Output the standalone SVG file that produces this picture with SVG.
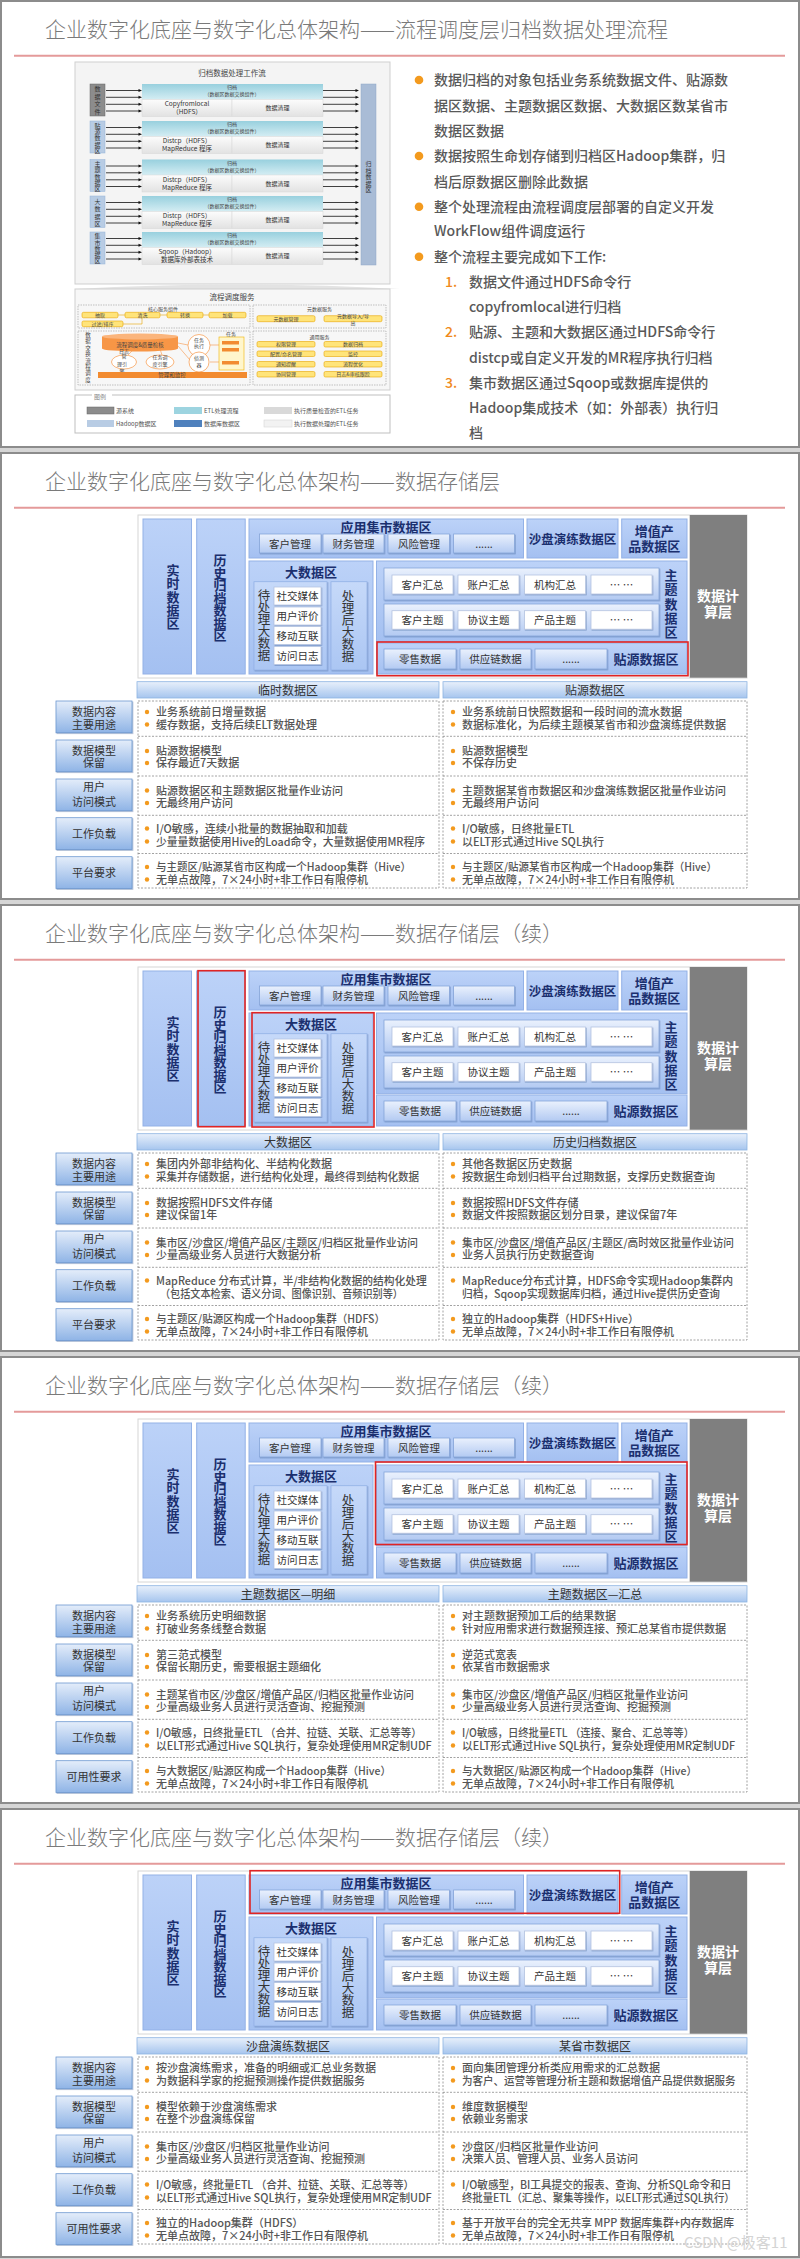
<svg xmlns="http://www.w3.org/2000/svg" width="800" height="2259" viewBox="0 0 800 2259">
<defs>
<linearGradient id="gZ" x1="0" y1="0" x2="0" y2="1"><stop offset="0" stop-color="#bcd2f8"/><stop offset="1" stop-color="#a4c0f1"/></linearGradient>
<linearGradient id="gZ2" x1="0" y1="0" x2="0" y2="1"><stop offset="0" stop-color="#c6d9f9"/><stop offset="1" stop-color="#abc6f3"/></linearGradient>
<linearGradient id="gB" x1="0" y1="0" x2="0" y2="1"><stop offset="0" stop-color="#eaf1fd"/><stop offset="1" stop-color="#b3caf2"/></linearGradient>
<linearGradient id="gH" x1="0" y1="0" x2="0" y2="1"><stop offset="0" stop-color="#e8f0fb"/><stop offset="1" stop-color="#a6c5ee"/></linearGradient>
<linearGradient id="gR" x1="0" y1="0" x2="0" y2="1"><stop offset="0" stop-color="#e4edfa"/><stop offset="1" stop-color="#8fb4e6"/></linearGradient>
<linearGradient id="gT" x1="0" y1="0" x2="0" y2="1"><stop offset="0" stop-color="#98d0de"/><stop offset="1" stop-color="#d4edf3"/></linearGradient>
<linearGradient id="gG" x1="0" y1="0" x2="0" y2="1"><stop offset="0" stop-color="#fcfcfc"/><stop offset="1" stop-color="#e2e2e2"/></linearGradient>
<filter id="sh" x="-10%" y="-10%" width="130%" height="140%"><feDropShadow dx="0.8" dy="1" stdDeviation="0.6" flood-color="#4a6aa0" flood-opacity="0.45"/></filter>
<style>
text{font-family:'Noto Sans CJK SC','Noto Sans',sans-serif}
.ttl{font-size:21px;fill:#7a7a7a;font-weight:300}
.red{stroke:#e49a9a;stroke-width:2}
.fr{fill:#fff;stroke:#8c8c8c;stroke-width:2}
.z{fill:url(#gZ);stroke:#93b1e6;stroke-width:1}
.z2{fill:url(#gZ2);stroke:#93b1e6;stroke-width:.8;filter:url(#sh)}
.b{fill:url(#gB);stroke:#86a5d9;stroke-width:.8;filter:url(#sh)}
.w{fill:#fff;stroke:#b4c4e0;stroke-width:.8;filter:url(#sh)}
.zt{font-size:13px;font-weight:bold;fill:#1b2f6e;text-anchor:middle}
.bt{font-size:10.5px;fill:#333;text-anchor:middle}
.vt{font-size:12.5px;fill:#333;text-anchor:middle}
.ct{font-size:14px;font-weight:bold;fill:#fff;text-anchor:middle}
.hl{fill:none;stroke:#e02424;stroke-width:1.6}
.hd{fill:url(#gH);stroke:#8db3e2;stroke-width:.8}
.ht{font-size:12px;fill:#333;text-anchor:middle}
.rl{fill:url(#gR);stroke:#6d98d0;stroke-width:.8;filter:url(#sh)}
.rt{font-size:11px;fill:#333;text-anchor:middle}
.gd{fill:none;stroke:#8a8a8a;stroke-width:.8;stroke-dasharray:2 1.5}
.c{font-size:11px;fill:#555;font-weight:500}
.d{fill:#f39a1e}
.bl{font-size:14px;fill:#595959;font-weight:500}
.num{font-size:14px;fill:#f08a1c;font-weight:500}
.s5{font-size:5px;fill:#444;text-anchor:middle}
.s6{font-size:6px;fill:#333;text-anchor:middle}
.s65{font-size:6.5px;fill:#333;text-anchor:middle}
.s8{font-size:7.5px;fill:#444;text-anchor:middle}
.lg{font-size:6px;fill:#555}
.pill{fill:#ffe47a;stroke:#e8a400;stroke-width:.6}
.dash{fill:none;stroke:#9a9a9a;stroke-width:.6;stroke-dasharray:1.5 1}
.ol{fill:#fff;stroke:#f79646;stroke-width:.7}
</style>
</defs>
<rect x="0" y="0" width="800" height="2259" fill="#d6d6d6"/>
<g id="frames">
<rect class="fr" x="1" y="1" width="798" height="446"/>
<rect class="fr" x="1" y="453" width="798" height="446"/>
<rect class="fr" x="1" y="905" width="798" height="446"/>
<rect class="fr" x="1" y="1357" width="798" height="446"/>
<rect class="fr" x="1" y="1809" width="798" height="448"/>
</g>

<!-- ================= SLIDE 1 ================= -->
<g id="slide1">
<text class="ttl" x="45" y="37">企业数字化底座与数字化总体架构——流程调度层归档数据处理流程</text>
<line class="red" x1="14" y1="55.7" x2="785" y2="55.7"/>
<g id="wf">
<rect x="75" y="62" width="315" height="222" fill="#f4f4f4" stroke="#cfcfcf"/>
<text class="s8" x="232" y="75.5">归档数据处理工作流</text>
<g id="wf-src1"><rect x="90" y="84" width="15" height="32" fill="#8c8c8c" stroke="#666" stroke-width=".5"/><text class="s6" x="97.5 97.5 97.5 97.5" y="91 98.5 106 113.5">数据文件</text></g>
<g id="wf-src2"><rect x="90" y="121" width="15" height="32" fill="#b8cce4" stroke="#95b3d7" stroke-width=".5"/><text class="s6" x="97.5 97.5 97.5 97.5 97.5" y="127.6 133.9 140.2 146.5 152.6">贴源数据区</text></g>
<g id="wf-src3"><rect x="90" y="159.5" width="15" height="32" fill="#b8cce4" stroke="#95b3d7" stroke-width=".5"/><text class="s6" x="97.5 97.5 97.5 97.5 97.5" y="166.1 172.4 178.7 185 191">主题数据区</text></g>
<g id="wf-src4"><rect x="90" y="196" width="15" height="31.5" fill="#b8cce4" stroke="#95b3d7" stroke-width=".5"/><text class="s6" x="97.5 97.5 97.5 97.5" y="203.5 211 218.5 226">大数据区</text></g>
<g id="wf-src5"><rect x="90" y="232" width="15" height="32" fill="#b8cce4" stroke="#95b3d7" stroke-width=".5"/><text class="s6" x="97.5 97.5 97.5 97.5 97.5" y="238.4 244.6 250.8 257 263.2">集市数据区</text></g>
<g id="wf-row1"><rect x="142" y="84" width="181" height="15.5" fill="url(#gT)"/><text class="s5" x="232" y="89.3">归档</text><text class="s5" x="232" y="96">（数据区数据交换组件）</text><rect x="142" y="99.5" width="90" height="17" fill="url(#gG)" stroke="#d6d6d6" stroke-width=".5"/><rect x="232" y="99.5" width="91" height="17" fill="url(#gG)" stroke="#d6d6d6" stroke-width=".5"/><text class="s65" x="187" y="106.3">Copyfromlocal</text><text class="s65" x="187" y="114">（HDFS）</text><text class="s6" x="277.5" y="110">数据清理</text></g>
<g id="wf-row2"><rect x="142" y="121" width="181" height="15.5" fill="url(#gT)"/><text class="s5" x="232" y="126.3">归档</text><text class="s5" x="232" y="133">（数据区数据交换组件）</text><rect x="142" y="136.5" width="90" height="17" fill="url(#gG)" stroke="#d6d6d6" stroke-width=".5"/><rect x="232" y="136.5" width="91" height="17" fill="url(#gG)" stroke="#d6d6d6" stroke-width=".5"/><text class="s65" x="187" y="143.3">Distcp（HDFS）</text><text class="s65" x="187" y="151">MapReduce 程序</text><text class="s6" x="277.5" y="147">数据清理</text></g>
<g id="wf-row3"><rect x="142" y="159.5" width="181" height="15.5" fill="url(#gT)"/><text class="s5" x="232" y="164.8">归档</text><text class="s5" x="232" y="171.5">（数据区数据交换组件）</text><rect x="142" y="175" width="90" height="17" fill="url(#gG)" stroke="#d6d6d6" stroke-width=".5"/><rect x="232" y="175" width="91" height="17" fill="url(#gG)" stroke="#d6d6d6" stroke-width=".5"/><text class="s65" x="187" y="181.8">Distcp（HDFS）</text><text class="s65" x="187" y="189.5">MapReduce 程序</text><text class="s6" x="277.5" y="185.5">数据清理</text></g>
<g id="wf-row4"><rect x="142" y="196" width="181" height="15.5" fill="url(#gT)"/><text class="s5" x="232" y="201.3">归档</text><text class="s5" x="232" y="208">（数据区数据交换组件）</text><rect x="142" y="211.5" width="90" height="17" fill="url(#gG)" stroke="#d6d6d6" stroke-width=".5"/><rect x="232" y="211.5" width="91" height="17" fill="url(#gG)" stroke="#d6d6d6" stroke-width=".5"/><text class="s65" x="187" y="218.3">Distcp（HDFS）</text><text class="s65" x="187" y="226">MapReduce 程序</text><text class="s6" x="277.5" y="222">数据清理</text></g>
<g id="wf-row5"><rect x="142" y="232" width="181" height="15.5" fill="url(#gT)"/><text class="s5" x="232" y="237.3">归档</text><text class="s5" x="232" y="244">（数据区数据交换组件）</text><rect x="142" y="247.5" width="90" height="17" fill="url(#gG)" stroke="#d6d6d6" stroke-width=".5"/><rect x="232" y="247.5" width="91" height="17" fill="url(#gG)" stroke="#d6d6d6" stroke-width=".5"/><text class="s65" x="187" y="254.3">Sqoop（Hadoop）</text><text class="s65" x="187" y="262">数据库外部表技术</text><text class="s6" x="277.5" y="258">数据清理</text></g>
<g id="wf-arch"><rect x="361" y="84" width="15" height="181" fill="#a9bcd6" stroke="#8fa6c6" stroke-width=".5"/><text class="s6" x="368.5 368.5 368.5 368.5 368.5" y="166 172.5 179 185.5 192">归档数据区</text></g>
</g>
<g id="wf-connectors" stroke="#111" stroke-width=".8" fill="none">
<path d="M106 90.5H139M106 97.3H139M106 104.3H139M106 111H139M106 127.5H139M106 134.3H139M106 141.3H139M106 148H139M106 166H139M106 172.8H139M106 179.8H139M106 186.5H139M106 202.5H139M106 209.3H139M106 216.3H139M106 223H139M106 238.5H139M106 245.3H139M106 252.3H139M106 259H139M323 90.5H356M323 97.3H356M323 104.3H356M323 111H356M323 127.5H356M323 134.3H356M323 141.3H356M323 148H356M323 166H356M323 172.8H356M323 179.8H356M323 186.5H356M323 202.5H356M323 209.3H356M323 216.3H356M323 223H356M323 238.5H356M323 245.3H356M323 252.3H356M323 259H356"/>
<path fill="#111" stroke="none" d="M142 90.5l-3.5-1.5v3zM142 97.3l-3.5-1.5v3zM142 104.3l-3.5-1.5v3zM142 111l-3.5-1.5v3zM142 127.5l-3.5-1.5v3zM142 134.3l-3.5-1.5v3zM142 141.3l-3.5-1.5v3zM142 148l-3.5-1.5v3zM142 166l-3.5-1.5v3zM142 172.8l-3.5-1.5v3zM142 179.8l-3.5-1.5v3zM142 186.5l-3.5-1.5v3zM142 202.5l-3.5-1.5v3zM142 209.3l-3.5-1.5v3zM142 216.3l-3.5-1.5v3zM142 223l-3.5-1.5v3zM142 238.5l-3.5-1.5v3zM142 245.3l-3.5-1.5v3zM142 252.3l-3.5-1.5v3zM142 259l-3.5-1.5v3zM359 90.5l-3.5-1.5v3zM359 97.3l-3.5-1.5v3zM359 104.3l-3.5-1.5v3zM359 111l-3.5-1.5v3zM359 127.5l-3.5-1.5v3zM359 134.3l-3.5-1.5v3zM359 141.3l-3.5-1.5v3zM359 148l-3.5-1.5v3zM359 166l-3.5-1.5v3zM359 172.8l-3.5-1.5v3zM359 179.8l-3.5-1.5v3zM359 186.5l-3.5-1.5v3zM359 202.5l-3.5-1.5v3zM359 209.3l-3.5-1.5v3zM359 216.3l-3.5-1.5v3zM359 223l-3.5-1.5v3zM359 238.5l-3.5-1.5v3zM359 245.3l-3.5-1.5v3zM359 252.3l-3.5-1.5v3zM359 259l-3.5-1.5v3z"/>
</g>
<path d="M75 289Q232 280 400 289Z" fill="#e3e3e3"/>
<g id="sched">
<rect x="75" y="289" width="315" height="101" fill="#f7f7f7" stroke="#cfcfcf"/>
<text class="s8" x="232" y="300">流程调度服务</text>
<g id="core"><rect class="dash" x="78" y="305" width="172" height="23"/><text class="s5" x="163" y="310.5">核心服务组件</text>
<path d="M118 315H125M160 315H167M203 315H209M142 317.7V324H123" stroke="#e8a400" stroke-width=".6" fill="none"/>
<rect class="pill" x="82" y="312.3" width="36" height="5.5" rx="1.5"/><text class="s5" x="100" y="316.8">抽取</text>
<rect class="pill" x="125" y="312.3" width="35" height="5.5" rx="1.5"/><text class="s5" x="142.5" y="316.8">清洗</text>
<rect class="pill" x="167" y="312.3" width="36" height="5.5" rx="1.5"/><text class="s5" x="185" y="316.8">转换</text>
<rect class="pill" x="209" y="312.3" width="37" height="5.5" rx="1.5"/><text class="s5" x="227.5" y="316.8">加载</text>
<rect class="pill" x="82" y="321" width="41" height="5.7" rx="1.5"/><text class="s5" x="102.5" y="325.6">过滤/排序</text></g>
<g id="meta"><rect class="dash" x="253" y="305" width="133" height="23"/><text class="s5" x="319.5" y="310.5">元数据服务</text>
<rect class="pill" x="257" y="315.7" width="58" height="6" rx="1.5"/><text class="s5" x="286" y="320.5">元数据管理</text>
<rect class="pill" x="324" y="315.7" width="58" height="6" rx="1.5"/><text class="s5" x="353" y="317.6">元数据导入/导</text><text class="s5" x="353" y="324.6">出</text></g>
<g id="xchg"><rect class="dash" x="78" y="331" width="172" height="54"/>
<text class="s5" style="font-size:5.5px" x="88 88 88 88 88 88 88 88" y="337 343.4 349.8 356.2 362.6 369 375.4 381.8">数据交换流程调度</text>
<path d="M178 343L188 345M160 349L162 355M178 346L190 360M134 349L128 355M210 345L219 345M210 362L219 362" stroke="#f79646" stroke-width=".6" fill="none"/>
<rect x="102" y="336.5" width="76" height="12" fill="#f79646"/><ellipse cx="140" cy="348.5" rx="38" ry="3" fill="#f79646"/><ellipse cx="140" cy="336.5" rx="38" ry="3" fill="#fbb57c"/>
<text class="s5" style="font-size:5.5px" x="140" y="347">流程调度&amp;质量检核</text>
<circle class="ol" cx="199" cy="345.5" r="11"/><text class="s5" x="199" y="341.5">任务</text><text class="s5" x="199" y="348">执行</text>
<ellipse class="ol" cx="124" cy="362" rx="12.5" ry="7"/><text class="s5" x="124" y="353">日志</text><text class="s5" x="124" y="358">管</text><text class="s5" x="122" y="366">理引</text><text class="s5" x="122" y="373">擎</text>
<ellipse class="ol" cx="160" cy="362" rx="14" ry="7"/><text class="s5" x="160" y="359">任务调</text><text class="s5" x="160" y="366">度引擎</text>
<circle class="ol" cx="199" cy="362" r="10"/><text class="s5" x="199" y="360">侦测</text><text class="s5" x="199" y="367">器</text>
<text class="s5" x="231" y="336">任务</text>
<rect x="219" y="337" width="25" height="33" fill="#fff6cc" stroke="#f0b400" stroke-width=".6"/>
<rect x="222" y="341" width="17" height="3.5" fill="#f28b30"/><rect x="222" y="348" width="17" height="3.5" fill="#f28b30"/><rect x="222" y="361" width="17" height="3.5" fill="#f28b30"/>
<rect x="98" y="372" width="149" height="6" fill="#f28b30"/><text class="s5" style="font-size:5.5px" x="172" y="377">管理和监控</text></g>
<g id="common"><rect class="dash" x="253" y="331" width="133" height="54"/><text class="s5" x="319.5" y="338.5">通用服务</text>
<rect class="pill" x="257" y="341.5" width="58" height="5.5" rx="1.5"/><text class="s5" x="286" y="346">权限管理</text>
<rect class="pill" x="324" y="341.5" width="58" height="5.5" rx="1.5"/><text class="s5" x="353" y="346">数据归档</text>
<rect class="pill" x="257" y="351" width="58" height="5.5" rx="1.5"/><text class="s5" x="286" y="355.5">配置/命名管理</text>
<rect class="pill" x="324" y="351" width="58" height="5.5" rx="1.5"/><text class="s5" x="353" y="355.5">监控</text>
<rect class="pill" x="257" y="361.5" width="58" height="5.5" rx="1.5"/><text class="s5" x="286" y="366">通知提醒</text>
<rect class="pill" x="324" y="361.5" width="58" height="5.5" rx="1.5"/><text class="s5" x="353" y="366">流程优化</text>
<rect class="pill" x="257" y="371.5" width="58" height="5.5" rx="1.5"/><text class="s5" x="286" y="376">协同管理</text>
<rect class="pill" x="324" y="371.5" width="58" height="5.5" rx="1.5"/><text class="s5" x="353" y="376">日志&amp;审核跟踪</text></g>
</g>
<g id="legend">
<rect x="75" y="395" width="315" height="38" fill="#fff" stroke="#bfbfbf"/>
<rect x="92" y="392" width="20" height="6" fill="#fff"/><text class="lg" x="94" y="398.5" style="fill:#888">图例</text>
<rect x="87" y="407" width="27" height="7" fill="#8c8c8c" stroke="#666" stroke-width=".5"/><text class="lg" x="116" y="413">源系统</text>
<rect x="174" y="407" width="28" height="7" fill="#9dd4e0"/><text class="lg" x="204" y="413">ETL处理流程</text>
<rect x="264" y="407" width="28" height="7" fill="#d9d9d9"/><text class="lg" x="294" y="413">执行质量检查的ETL任务</text>
<rect x="87" y="420" width="27" height="7" fill="#b8cce4"/><text class="lg" x="116" y="426">Hadoop数据区</text>
<rect x="174" y="420" width="28" height="7" fill="#4f81bd"/><text class="lg" x="204" y="426">数据库数据区</text>
<rect x="264" y="420" width="28" height="7" fill="#f2f2f2" stroke="#d0d0d0" stroke-width=".5"/><text class="lg" x="294" y="426">执行数据处理的ETL任务</text>
</g>
<g id="s1-bullets">
<circle class="d" cx="419" cy="80" r="4.3"/><circle class="d" cx="419" cy="156" r="4.3"/><circle class="d" cx="419" cy="206.7" r="4.3"/><circle class="d" cx="419" cy="256.7" r="4.3"/>
<text class="bl" x="434" y="85">数据归档的对象包括业务系统数据文件、贴源数</text>
<text class="bl" x="434" y="111">据区数据、主题数据区数据、大数据区数某省市</text>
<text class="bl" x="434" y="136">数据区数据</text>
<text class="bl" x="434" y="161">数据按照生命划存储到归档区Hadoop集群，归</text>
<text class="bl" x="434" y="187">档后原数据区删除此数据</text>
<text class="bl" x="434" y="212">整个处理流程由流程调度层部署的自定义开发</text>
<text class="bl" x="434" y="236">WorkFlow组件调度运行</text>
<text class="bl" x="434" y="262">整个流程主要完成如下工作:</text>
<text class="num" x="445" y="287">1.</text>
<text class="bl" x="469" y="287">数据文件通过HDFS命令行</text>
<text class="bl" x="469" y="312">copyfromlocal进行归档</text>
<text class="num" x="445" y="337">2.</text>
<text class="bl" x="469" y="337">贴源、主题和大数据区通过HDFS命令行</text>
<text class="bl" x="469" y="363">distcp或自定义开发的MR程序执行归档</text>
<text class="num" x="445" y="388">3.</text>
<text class="bl" x="469" y="388">集市数据区通过Sqoop或数据库提供的</text>
<text class="bl" x="469" y="413">Hadoop集成技术（如：外部表）执行归</text>
<text class="bl" x="469" y="438">档</text>
</g>
</g>

<!-- ================= SLIDE 2 ================= -->
<g id="slide2">
<text class="ttl" x="45" y="489">企业数字化底座与数字化总体架构——数据存储层</text>
<line class="red" x1="14" y1="507.7" x2="785" y2="507.7"/>
<g id="s2-arch">
<rect x="138" y="515" width="609" height="163" fill="#fff" stroke="#d6d6d6"/>
<g id="s2-rt"><rect class="z" x="143" y="519" width="48.5" height="155"/><text class="zt" x="173 173 173 173 173" y="575 588.3 601.6 614.9 628.2">实时数据区</text></g>
<g id="s2-hist"><rect class="z" x="196.7" y="519" width="48.5" height="155"/><text class="zt" x="220 220 220 220 220 220 220" y="565 577.5 590 602.5 615 627.5 640">历史归档数据区</text></g>
<g id="s2-app"><rect class="z" x="249" y="519" width="274.5" height="39"/><text class="zt" x="386" y="531.5">应用集市数据区</text><rect class="b" x="259.5" y="534" width="61.5" height="19"/><rect class="b" x="323" y="534" width="61" height="19"/><rect class="b" x="388" y="534" width="61.5" height="19"/><rect class="b" x="453.6" y="534" width="61" height="19"/><text class="bt" x="290" y="547.5">客户管理</text><text class="bt" x="353.5" y="547.5">财务管理</text><text class="bt" x="419" y="547.5">风险管理</text><text class="bt" x="484" y="547.5">......</text></g>
<g id="s2-sand"><rect class="z" x="527" y="519" width="91" height="39"/><text class="zt" style="font-size:12.5px" x="572.5" y="543.5">沙盘演练数据区</text></g>
<g id="s2-vap"><rect class="z" x="621.7" y="519" width="65.3" height="39"/><text class="zt" x="654.3" y="535.5">增值产</text><text class="zt" x="654.3" y="551">品数据区</text></g>
<g id="s2-big"><rect class="z" x="249" y="561" width="124" height="113"/><text class="zt" x="311" y="576.5">大数据区</text><rect class="z2" x="254" y="581.7" width="73" height="88.3"/><text class="vt" x="264 264 264 264 264 264" y="599.5 611.6 623.7 635.8 648 660">待处理大数据</text><rect class="w" x="274" y="587" width="47" height="18"/><rect class="w" x="274" y="607" width="47" height="18"/><rect class="w" x="274" y="626.5" width="47" height="18"/><rect class="w" x="274" y="646.5" width="47" height="18"/><text class="bt" x="297.5" y="600">社交媒体</text><text class="bt" x="297.5" y="620">用户评价</text><text class="bt" x="297.5" y="639.5">移动互联</text><text class="bt" x="297.5" y="659.5">访问日志</text><rect class="z2" x="331" y="581.7" width="36" height="88.3"/><text class="vt" x="348 348 348 348 348 348" y="601 613 625 637 649 661">处理后大数据</text></g>
<g id="s2-subj"><rect class="z" x="376.5" y="561" width="310.5" height="80.7"/><rect class="b" x="384" y="568" width="275" height="32"/><rect class="b" x="384" y="604" width="275" height="32"/><rect class="w" x="392" y="575" width="61" height="19"/><rect class="w" x="458" y="575" width="61" height="19"/><rect class="w" x="524.6" y="575" width="61" height="19"/><rect class="w" x="591" y="575" width="61" height="19"/><rect class="w" x="392" y="610.7" width="61" height="18.5"/><rect class="w" x="458" y="610.7" width="61" height="18.5"/><rect class="w" x="524.6" y="610.7" width="61" height="18.5"/><rect class="w" x="591" y="610.7" width="61" height="18.5"/><text class="bt" x="422.5" y="588.5">客户汇总</text><text class="bt" x="488.5" y="588.5">账户汇总</text><text class="bt" x="555" y="588.5">机构汇总</text><text class="bt" x="621.5" y="588.5">… …</text><text class="bt" x="422.5" y="624">客户主题</text><text class="bt" x="488.5" y="624">协议主题</text><text class="bt" x="555" y="624">产品主题</text><text class="bt" x="621.5" y="624">… …</text><text class="zt" x="671 671 671 671 671" y="580 594 608.5 623 637">主题数据区</text></g>
<g id="s2-src"><rect class="z" x="376.5" y="643" width="310.5" height="31"/><rect class="b" x="384" y="649" width="72" height="20"/><rect class="b" x="460" y="649" width="71" height="20"/><rect class="b" x="535" y="649" width="72" height="20"/><text class="bt" x="420" y="663">零售数据</text><text class="bt" x="495.5" y="663">供应链数据</text><text class="bt" x="571" y="663">......</text><text class="zt" x="646" y="663.5">贴源数据区</text></g>
<g id="s2-calc"><rect x="689.7" y="515" width="57.3" height="162.7" fill="#7f7f7f"/><text class="ct" x="718" y="600.5">数据计</text><text class="ct" x="718" y="616.5">算层</text></g>
</g>
<rect id="s2-mark" class="hl" x="377" y="642" width="311" height="33.7"/>
<g id="s2-table">
<rect class="hd" x="137" y="681.7" width="302" height="16.3"/><text class="ht" x="288" y="694.5">临时数据区</text>
<rect class="hd" x="443" y="681.7" width="304" height="16.3"/><text class="ht" x="595" y="694.5">贴源数据区</text>
<rect class="rl" x="56" y="701" width="76" height="31.7"/><text class="rt" x="94" y="716">数据内容</text><text class="rt" x="94" y="728.5">主要用途</text>
<rect class="rl" x="56" y="740" width="76" height="31.7"/><text class="rt" x="94" y="755">数据模型</text><text class="rt" x="94" y="767">保留</text>
<rect class="rl" x="56" y="779" width="76" height="31.7"/><text class="rt" x="94" y="790.5">用户</text><text class="rt" x="94" y="806">访问模式</text>
<rect class="rl" x="56" y="817.7" width="76" height="31.7"/><text class="rt" x="94" y="838">工作负载</text>
<rect class="rl" x="56" y="856.7" width="76" height="31.7"/><text class="rt" x="94" y="877">平台要求</text>
<path class="gd" d="M138 701H439V888H138ZM443 701H747V888H443ZM138 736.3H439M138 776H439M138 815.3H439M138 853.5H439M443 736.3H747M443 776H747M443 815.3H747M443 853.5H747"/>
<g class="d"><circle cx="147" cy="712" r="2.2"/><circle cx="147" cy="724.5" r="2.2"/><circle cx="147" cy="751" r="2.2"/><circle cx="147" cy="763" r="2.2"/><circle cx="147" cy="790.5" r="2.2"/><circle cx="147" cy="803" r="2.2"/><circle cx="147" cy="828.5" r="2.2"/><circle cx="147" cy="841.5" r="2.2"/><circle cx="147" cy="867" r="2.2"/><circle cx="147" cy="879.5" r="2.2"/><circle cx="453" cy="712" r="2.2"/><circle cx="453" cy="724.5" r="2.2"/><circle cx="453" cy="751" r="2.2"/><circle cx="453" cy="763" r="2.2"/><circle cx="453" cy="790.5" r="2.2"/><circle cx="453" cy="803" r="2.2"/><circle cx="453" cy="828.5" r="2.2"/><circle cx="453" cy="841.5" r="2.2"/><circle cx="453" cy="867" r="2.2"/><circle cx="453" cy="879.5" r="2.2"/></g>
<text class="c" x="156" y="716">业务系统前日增量数据</text><text class="c" x="156" y="728.5">缓存数据，支持后续ELT数据处理</text>
<text class="c" x="156" y="755">贴源数据模型</text><text class="c" x="156" y="767">保存最近7天数据</text>
<text class="c" x="156" y="794.5">贴源数据区和主题数据区批量作业访问</text><text class="c" x="156" y="807">无最终用户访问</text>
<text class="c" x="156" y="832.5">I/O敏感，连续小批量的数据抽取和加载</text><text class="c" x="156" y="845.5" textLength="269" lengthAdjust="spacingAndGlyphs">少量量数据使用Hive的Load命令，大量数据使用MR程序</text>
<text class="c" x="156" y="871" textLength="255" lengthAdjust="spacingAndGlyphs">与主题区/贴源某省市区构成一个Hadoop集群（Hive）</text><text class="c" x="156" y="883.5">无单点故障，7×24小时+非工作日有限停机</text>
<text class="c" x="462" y="716">业务系统前日快照数据和一段时间的流水数据</text><text class="c" x="462" y="728.5">数据标准化，为后续主题模某省市和沙盘演练提供数据</text>
<text class="c" x="462" y="755">贴源数据模型</text><text class="c" x="462" y="767">不保存历史</text>
<text class="c" x="462" y="794.5">主题数据某省市数据区和沙盘演练数据区批量作业访问</text><text class="c" x="462" y="807">无最终用户访问</text>
<text class="c" x="462" y="832.5">I/O敏感，日终批量ETL</text><text class="c" x="462" y="845.5">以ELT形式通过Hive SQL执行</text>
<text class="c" x="462" y="871" textLength="255" lengthAdjust="spacingAndGlyphs">与主题区/贴源某省市区构成一个Hadoop集群（Hive）</text><text class="c" x="462" y="883.5">无单点故障，7×24小时+非工作日有限停机</text>
</g>
</g>

<!-- ================= SLIDE 3 ================= -->
<g id="slide3" transform="translate(0,452)">
<text class="ttl" x="45" y="489">企业数字化底座与数字化总体架构——数据存储层（续）</text>
<line class="red" x1="14" y1="507.7" x2="785" y2="507.7"/>
<g id="s3-arch">
<rect x="138" y="515" width="609" height="163" fill="#fff" stroke="#d6d6d6"/>
<g id="s3-rt"><rect class="z" x="143" y="519" width="48.5" height="155"/><text class="zt" x="173 173 173 173 173" y="575 588.3 601.6 614.9 628.2">实时数据区</text></g>
<g id="s3-hist"><rect class="z" x="196.7" y="519" width="48.5" height="155"/><text class="zt" x="220 220 220 220 220 220 220" y="565 577.5 590 602.5 615 627.5 640">历史归档数据区</text></g>
<g id="s3-app"><rect class="z" x="249" y="519" width="274.5" height="39"/><text class="zt" x="386" y="531.5">应用集市数据区</text><rect class="b" x="259.5" y="534" width="61.5" height="19"/><rect class="b" x="323" y="534" width="61" height="19"/><rect class="b" x="388" y="534" width="61.5" height="19"/><rect class="b" x="453.6" y="534" width="61" height="19"/><text class="bt" x="290" y="547.5">客户管理</text><text class="bt" x="353.5" y="547.5">财务管理</text><text class="bt" x="419" y="547.5">风险管理</text><text class="bt" x="484" y="547.5">......</text></g>
<g id="s3-sand"><rect class="z" x="527" y="519" width="91" height="39"/><text class="zt" style="font-size:12.5px" x="572.5" y="543.5">沙盘演练数据区</text></g>
<g id="s3-vap"><rect class="z" x="621.7" y="519" width="65.3" height="39"/><text class="zt" x="654.3" y="535.5">增值产</text><text class="zt" x="654.3" y="551">品数据区</text></g>
<g id="s3-big"><rect class="z" x="249" y="561" width="124" height="113"/><text class="zt" x="311" y="576.5">大数据区</text><rect class="z2" x="254" y="581.7" width="73" height="88.3"/><text class="vt" x="264 264 264 264 264 264" y="599.5 611.6 623.7 635.8 648 660">待处理大数据</text><rect class="w" x="274" y="587" width="47" height="18"/><rect class="w" x="274" y="607" width="47" height="18"/><rect class="w" x="274" y="626.5" width="47" height="18"/><rect class="w" x="274" y="646.5" width="47" height="18"/><text class="bt" x="297.5" y="600">社交媒体</text><text class="bt" x="297.5" y="620">用户评价</text><text class="bt" x="297.5" y="639.5">移动互联</text><text class="bt" x="297.5" y="659.5">访问日志</text><rect class="z2" x="331" y="581.7" width="36" height="88.3"/><text class="vt" x="348 348 348 348 348 348" y="601 613 625 637 649 661">处理后大数据</text></g>
<g id="s3-subj"><rect class="z" x="376.5" y="561" width="310.5" height="80.7"/><rect class="b" x="384" y="568" width="275" height="32"/><rect class="b" x="384" y="604" width="275" height="32"/><rect class="w" x="392" y="575" width="61" height="19"/><rect class="w" x="458" y="575" width="61" height="19"/><rect class="w" x="524.6" y="575" width="61" height="19"/><rect class="w" x="591" y="575" width="61" height="19"/><rect class="w" x="392" y="610.7" width="61" height="18.5"/><rect class="w" x="458" y="610.7" width="61" height="18.5"/><rect class="w" x="524.6" y="610.7" width="61" height="18.5"/><rect class="w" x="591" y="610.7" width="61" height="18.5"/><text class="bt" x="422.5" y="588.5">客户汇总</text><text class="bt" x="488.5" y="588.5">账户汇总</text><text class="bt" x="555" y="588.5">机构汇总</text><text class="bt" x="621.5" y="588.5">… …</text><text class="bt" x="422.5" y="624">客户主题</text><text class="bt" x="488.5" y="624">协议主题</text><text class="bt" x="555" y="624">产品主题</text><text class="bt" x="621.5" y="624">… …</text><text class="zt" x="671 671 671 671 671" y="580 594 608.5 623 637">主题数据区</text></g>
<g id="s3-src"><rect class="z" x="376.5" y="643" width="310.5" height="31"/><rect class="b" x="384" y="649" width="72" height="20"/><rect class="b" x="460" y="649" width="71" height="20"/><rect class="b" x="535" y="649" width="72" height="20"/><text class="bt" x="420" y="663">零售数据</text><text class="bt" x="495.5" y="663">供应链数据</text><text class="bt" x="571" y="663">......</text><text class="zt" x="646" y="663.5">贴源数据区</text></g>
<g id="s3-calc"><rect x="689.7" y="515" width="57.3" height="162.7" fill="#7f7f7f"/><text class="ct" x="718" y="600.5">数据计</text><text class="ct" x="718" y="616.5">算层</text></g>
</g>
<rect id="s3-mark1" class="hl" x="198" y="518.7" width="47" height="156"/>
<rect id="s3-mark2" class="hl" x="252" y="560.7" width="122" height="114.3"/>
<g id="s3-table">
<rect class="hd" x="137" y="681.7" width="302" height="16.3"/><text class="ht" x="288" y="694.5">大数据区</text>
<rect class="hd" x="443" y="681.7" width="304" height="16.3"/><text class="ht" x="595" y="694.5">历史归档数据区</text>
<rect class="rl" x="56" y="701" width="76" height="31.7"/><text class="rt" x="94" y="716">数据内容</text><text class="rt" x="94" y="728.5">主要用途</text>
<rect class="rl" x="56" y="740" width="76" height="31.7"/><text class="rt" x="94" y="755">数据模型</text><text class="rt" x="94" y="767">保留</text>
<rect class="rl" x="56" y="779" width="76" height="31.7"/><text class="rt" x="94" y="790.5">用户</text><text class="rt" x="94" y="806">访问模式</text>
<rect class="rl" x="56" y="817.7" width="76" height="31.7"/><text class="rt" x="94" y="838">工作负载</text>
<rect class="rl" x="56" y="856.7" width="76" height="31.7"/><text class="rt" x="94" y="877">平台要求</text>
<path class="gd" d="M138 701H439V888H138ZM443 701H747V888H443ZM138 736.3H439M138 776H439M138 815.3H439M138 853.5H439M443 736.3H747M443 776H747M443 815.3H747M443 853.5H747"/>
<g class="d"><circle cx="147" cy="712" r="2.2"/><circle cx="147" cy="724.5" r="2.2"/><circle cx="147" cy="751" r="2.2"/><circle cx="147" cy="763" r="2.2"/><circle cx="147" cy="790.5" r="2.2"/><circle cx="147" cy="803" r="2.2"/><circle cx="147" cy="828.5" r="2.2"/><circle cx="147" cy="867" r="2.2"/><circle cx="147" cy="879.5" r="2.2"/><circle cx="453" cy="712" r="2.2"/><circle cx="453" cy="724.5" r="2.2"/><circle cx="453" cy="751" r="2.2"/><circle cx="453" cy="763" r="2.2"/><circle cx="453" cy="790.5" r="2.2"/><circle cx="453" cy="803" r="2.2"/><circle cx="453" cy="828.5" r="2.2"/><circle cx="453" cy="867" r="2.2"/><circle cx="453" cy="879.5" r="2.2"/></g>
<text class="c" x="156" y="716">集团内外部非结构化、半结构化数据</text><text class="c" x="156" y="728.5" textLength="263" lengthAdjust="spacingAndGlyphs">采集并存储数据，进行结构化处理，最终得到结构化数据</text>
<text class="c" x="156" y="755">数据按照HDFS文件存储</text><text class="c" x="156" y="767">建议保留1年</text>
<text class="c" x="156" y="794.5" textLength="262" lengthAdjust="spacingAndGlyphs">集市区/沙盘区/增值产品区/主题区/归档区批量作业访问</text><text class="c" x="156" y="807">少量高级业务人员进行大数据分析</text>
<text class="c" x="156" y="832.5" textLength="270.7" lengthAdjust="spacingAndGlyphs">MapReduce 分布式计算，半/非结构化数据的结构化处理</text><text class="c" x="160" y="845.5" textLength="243" lengthAdjust="spacingAndGlyphs">（包括文本检索、语义分词、图像识别、音频识别等）</text>
<text class="c" x="156" y="871" textLength="229" lengthAdjust="spacingAndGlyphs">与主题区/贴源区构成一个Hadoop集群（HDFS）</text><text class="c" x="156" y="883.5">无单点故障，7×24小时+非工作日有限停机</text>
<text class="c" x="462" y="716">其他各数据区历史数据</text><text class="c" x="462" y="728.5">按数据生命划归档平台过期数据，支撑历史数据查询</text>
<text class="c" x="462" y="755">数据按照HDFS文件存储</text><text class="c" x="462" y="767">数据文件按照数据区划分目录，建议保留7年</text>
<text class="c" x="462" y="794.5" textLength="272" lengthAdjust="spacingAndGlyphs">集市区/沙盘区/增值产品区/主题区/高时效区批量作业访问</text><text class="c" x="462" y="807">业务人员执行历史数据查询</text>
<text class="c" x="462" y="832.5" textLength="271" lengthAdjust="spacingAndGlyphs">MapReduce分布式计算，HDFS命令实现Hadoop集群内</text><text class="c" x="462" y="845.5" textLength="258" lengthAdjust="spacingAndGlyphs">归档，Sqoop实现数据库归档，通过Hive提供历史查询</text>
<text class="c" x="462" y="871">独立的Hadoop集群（HDFS+Hive）</text><text class="c" x="462" y="883.5">无单点故障，7×24小时+非工作日有限停机</text>
</g>
</g>

<!-- ================= SLIDE 4 ================= -->
<g id="slide4" transform="translate(0,904)">
<text class="ttl" x="45" y="489">企业数字化底座与数字化总体架构——数据存储层（续）</text>
<line class="red" x1="14" y1="507.7" x2="785" y2="507.7"/>
<g id="s4-arch">
<rect x="138" y="515" width="609" height="163" fill="#fff" stroke="#d6d6d6"/>
<g id="s4-rt"><rect class="z" x="143" y="519" width="48.5" height="155"/><text class="zt" x="173 173 173 173 173" y="575 588.3 601.6 614.9 628.2">实时数据区</text></g>
<g id="s4-hist"><rect class="z" x="196.7" y="519" width="48.5" height="155"/><text class="zt" x="220 220 220 220 220 220 220" y="565 577.5 590 602.5 615 627.5 640">历史归档数据区</text></g>
<g id="s4-app"><rect class="z" x="249" y="519" width="274.5" height="39"/><text class="zt" x="386" y="531.5">应用集市数据区</text><rect class="b" x="259.5" y="534" width="61.5" height="19"/><rect class="b" x="323" y="534" width="61" height="19"/><rect class="b" x="388" y="534" width="61.5" height="19"/><rect class="b" x="453.6" y="534" width="61" height="19"/><text class="bt" x="290" y="547.5">客户管理</text><text class="bt" x="353.5" y="547.5">财务管理</text><text class="bt" x="419" y="547.5">风险管理</text><text class="bt" x="484" y="547.5">......</text></g>
<g id="s4-sand"><rect class="z" x="527" y="519" width="91" height="39"/><text class="zt" style="font-size:12.5px" x="572.5" y="543.5">沙盘演练数据区</text></g>
<g id="s4-vap"><rect class="z" x="621.7" y="519" width="65.3" height="39"/><text class="zt" x="654.3" y="535.5">增值产</text><text class="zt" x="654.3" y="551">品数据区</text></g>
<g id="s4-big"><rect class="z" x="249" y="561" width="124" height="113"/><text class="zt" x="311" y="576.5">大数据区</text><rect class="z2" x="254" y="581.7" width="73" height="88.3"/><text class="vt" x="264 264 264 264 264 264" y="599.5 611.6 623.7 635.8 648 660">待处理大数据</text><rect class="w" x="274" y="587" width="47" height="18"/><rect class="w" x="274" y="607" width="47" height="18"/><rect class="w" x="274" y="626.5" width="47" height="18"/><rect class="w" x="274" y="646.5" width="47" height="18"/><text class="bt" x="297.5" y="600">社交媒体</text><text class="bt" x="297.5" y="620">用户评价</text><text class="bt" x="297.5" y="639.5">移动互联</text><text class="bt" x="297.5" y="659.5">访问日志</text><rect class="z2" x="331" y="581.7" width="36" height="88.3"/><text class="vt" x="348 348 348 348 348 348" y="601 613 625 637 649 661">处理后大数据</text></g>
<g id="s4-subj"><rect class="z" x="376.5" y="561" width="310.5" height="80.7"/><rect class="b" x="384" y="568" width="275" height="32"/><rect class="b" x="384" y="604" width="275" height="32"/><rect class="w" x="392" y="575" width="61" height="19"/><rect class="w" x="458" y="575" width="61" height="19"/><rect class="w" x="524.6" y="575" width="61" height="19"/><rect class="w" x="591" y="575" width="61" height="19"/><rect class="w" x="392" y="610.7" width="61" height="18.5"/><rect class="w" x="458" y="610.7" width="61" height="18.5"/><rect class="w" x="524.6" y="610.7" width="61" height="18.5"/><rect class="w" x="591" y="610.7" width="61" height="18.5"/><text class="bt" x="422.5" y="588.5">客户汇总</text><text class="bt" x="488.5" y="588.5">账户汇总</text><text class="bt" x="555" y="588.5">机构汇总</text><text class="bt" x="621.5" y="588.5">… …</text><text class="bt" x="422.5" y="624">客户主题</text><text class="bt" x="488.5" y="624">协议主题</text><text class="bt" x="555" y="624">产品主题</text><text class="bt" x="621.5" y="624">… …</text><text class="zt" x="671 671 671 671 671" y="580 594 608.5 623 637">主题数据区</text></g>
<g id="s4-src"><rect class="z" x="376.5" y="643" width="310.5" height="31"/><rect class="b" x="384" y="649" width="72" height="20"/><rect class="b" x="460" y="649" width="71" height="20"/><rect class="b" x="535" y="649" width="72" height="20"/><text class="bt" x="420" y="663">零售数据</text><text class="bt" x="495.5" y="663">供应链数据</text><text class="bt" x="571" y="663">......</text><text class="zt" x="646" y="663.5">贴源数据区</text></g>
<g id="s4-calc"><rect x="689.7" y="515" width="57.3" height="162.7" fill="#7f7f7f"/><text class="ct" x="718" y="600.5">数据计</text><text class="ct" x="718" y="616.5">算层</text></g>
</g>
<rect id="s4-mark" class="hl" x="375.5" y="558" width="311.5" height="82.5"/>
<g id="s4-table">
<rect class="hd" x="137" y="681.7" width="302" height="16.3"/><text class="ht" x="288" y="694.5">主题数据区—明细</text>
<rect class="hd" x="443" y="681.7" width="304" height="16.3"/><text class="ht" x="595" y="694.5">主题数据区—汇总</text>
<rect class="rl" x="56" y="701" width="76" height="31.7"/><text class="rt" x="94" y="716">数据内容</text><text class="rt" x="94" y="728.5">主要用途</text>
<rect class="rl" x="56" y="740" width="76" height="31.7"/><text class="rt" x="94" y="755">数据模型</text><text class="rt" x="94" y="767">保留</text>
<rect class="rl" x="56" y="779" width="76" height="31.7"/><text class="rt" x="94" y="790.5">用户</text><text class="rt" x="94" y="806">访问模式</text>
<rect class="rl" x="56" y="817.7" width="76" height="31.7"/><text class="rt" x="94" y="838">工作负载</text>
<rect class="rl" x="56" y="856.7" width="76" height="31.7"/><text class="rt" x="94" y="877">可用性要求</text>
<path class="gd" d="M138 701H439V888H138ZM443 701H747V888H443ZM138 736.3H439M138 776H439M138 815.3H439M138 853.5H439M443 736.3H747M443 776H747M443 815.3H747M443 853.5H747"/>
<g class="d"><circle cx="147" cy="712" r="2.2"/><circle cx="147" cy="724.5" r="2.2"/><circle cx="147" cy="751" r="2.2"/><circle cx="147" cy="763" r="2.2"/><circle cx="147" cy="790.5" r="2.2"/><circle cx="147" cy="803" r="2.2"/><circle cx="147" cy="828.5" r="2.2"/><circle cx="147" cy="841.5" r="2.2"/><circle cx="147" cy="867" r="2.2"/><circle cx="147" cy="879.5" r="2.2"/><circle cx="453" cy="712" r="2.2"/><circle cx="453" cy="724.5" r="2.2"/><circle cx="453" cy="751" r="2.2"/><circle cx="453" cy="763" r="2.2"/><circle cx="453" cy="790.5" r="2.2"/><circle cx="453" cy="803" r="2.2"/><circle cx="453" cy="828.5" r="2.2"/><circle cx="453" cy="841.5" r="2.2"/><circle cx="453" cy="867" r="2.2"/><circle cx="453" cy="879.5" r="2.2"/></g>
<text class="c" x="156" y="716">业务系统历史明细数据</text><text class="c" x="156" y="728.5">打破业务条线整合数据</text>
<text class="c" x="156" y="755">第三范式模型</text><text class="c" x="156" y="767">保留长期历史，需要根据主题细化</text>
<text class="c" x="156" y="794.5" textLength="258" lengthAdjust="spacingAndGlyphs">主题某省市区/沙盘区/增值产品区/归档区批量作业访问</text><text class="c" x="156" y="807">少量高级业务人员进行灵活查询、挖掘预测</text>
<text class="c" x="156" y="832.5" textLength="265.6" lengthAdjust="spacingAndGlyphs">I/O敏感，日终批量ETL （合并、拉链、关联、汇总等等）</text><text class="c" x="156" y="845.5" textLength="275.7" lengthAdjust="spacingAndGlyphs">以ELT形式通过Hive SQL执行，复杂处理使用MR定制UDF</text>
<text class="c" x="156" y="871" textLength="235" lengthAdjust="spacingAndGlyphs">与大数据区/贴源区构成一个Hadoop集群（Hive）</text><text class="c" x="156" y="883.5">无单点故障，7×24小时+非工作日有限停机</text>
<text class="c" x="462" y="716">对主题数据预加工后的结果数据</text><text class="c" x="462" y="728.5">针对应用需求进行数据预连接、预汇总某省市提供数据</text>
<text class="c" x="462" y="755">逆范式宽表</text><text class="c" x="462" y="767">依某省市数据需求</text>
<text class="c" x="462" y="794.5" textLength="226" lengthAdjust="spacingAndGlyphs">集市区/沙盘区/增值产品区/归档区批量作业访问</text><text class="c" x="462" y="807">少量高级业务人员进行灵活查询、挖掘预测</text>
<text class="c" x="462" y="832.5" textLength="232" lengthAdjust="spacingAndGlyphs">I/O敏感，日终批量ETL （连接、聚合、汇总等等）</text><text class="c" x="462" y="845.5" textLength="273" lengthAdjust="spacingAndGlyphs">以ELT形式通过Hive SQL执行，复杂处理使用MR定制UDF</text>
<text class="c" x="462" y="871" textLength="235" lengthAdjust="spacingAndGlyphs">与大数据区/贴源区构成一个Hadoop集群（Hive）</text><text class="c" x="462" y="883.5">无单点故障，7×24小时+非工作日有限停机</text>
</g>
</g>

<!-- ================= SLIDE 5 ================= -->
<g id="slide5" transform="translate(0,1356)">
<text class="ttl" x="45" y="489">企业数字化底座与数字化总体架构——数据存储层（续）</text>
<line class="red" x1="14" y1="507.7" x2="785" y2="507.7"/>
<g id="s5-arch">
<rect x="138" y="515" width="609" height="163" fill="#fff" stroke="#d6d6d6"/>
<g id="s5-rt"><rect class="z" x="143" y="519" width="48.5" height="155"/><text class="zt" x="173 173 173 173 173" y="575 588.3 601.6 614.9 628.2">实时数据区</text></g>
<g id="s5-hist"><rect class="z" x="196.7" y="519" width="48.5" height="155"/><text class="zt" x="220 220 220 220 220 220 220" y="565 577.5 590 602.5 615 627.5 640">历史归档数据区</text></g>
<g id="s5-app"><rect class="z" x="249" y="519" width="274.5" height="39"/><text class="zt" x="386" y="531.5">应用集市数据区</text><rect class="b" x="259.5" y="534" width="61.5" height="19"/><rect class="b" x="323" y="534" width="61" height="19"/><rect class="b" x="388" y="534" width="61.5" height="19"/><rect class="b" x="453.6" y="534" width="61" height="19"/><text class="bt" x="290" y="547.5">客户管理</text><text class="bt" x="353.5" y="547.5">财务管理</text><text class="bt" x="419" y="547.5">风险管理</text><text class="bt" x="484" y="547.5">......</text></g>
<g id="s5-sand"><rect class="z" x="527" y="519" width="91" height="39"/><text class="zt" style="font-size:12.5px" x="572.5" y="543.5">沙盘演练数据区</text></g>
<g id="s5-vap"><rect class="z" x="621.7" y="519" width="65.3" height="39"/><text class="zt" x="654.3" y="535.5">增值产</text><text class="zt" x="654.3" y="551">品数据区</text></g>
<g id="s5-big"><rect class="z" x="249" y="561" width="124" height="113"/><text class="zt" x="311" y="576.5">大数据区</text><rect class="z2" x="254" y="581.7" width="73" height="88.3"/><text class="vt" x="264 264 264 264 264 264" y="599.5 611.6 623.7 635.8 648 660">待处理大数据</text><rect class="w" x="274" y="587" width="47" height="18"/><rect class="w" x="274" y="607" width="47" height="18"/><rect class="w" x="274" y="626.5" width="47" height="18"/><rect class="w" x="274" y="646.5" width="47" height="18"/><text class="bt" x="297.5" y="600">社交媒体</text><text class="bt" x="297.5" y="620">用户评价</text><text class="bt" x="297.5" y="639.5">移动互联</text><text class="bt" x="297.5" y="659.5">访问日志</text><rect class="z2" x="331" y="581.7" width="36" height="88.3"/><text class="vt" x="348 348 348 348 348 348" y="601 613 625 637 649 661">处理后大数据</text></g>
<g id="s5-subj"><rect class="z" x="376.5" y="561" width="310.5" height="80.7"/><rect class="b" x="384" y="568" width="275" height="32"/><rect class="b" x="384" y="604" width="275" height="32"/><rect class="w" x="392" y="575" width="61" height="19"/><rect class="w" x="458" y="575" width="61" height="19"/><rect class="w" x="524.6" y="575" width="61" height="19"/><rect class="w" x="591" y="575" width="61" height="19"/><rect class="w" x="392" y="610.7" width="61" height="18.5"/><rect class="w" x="458" y="610.7" width="61" height="18.5"/><rect class="w" x="524.6" y="610.7" width="61" height="18.5"/><rect class="w" x="591" y="610.7" width="61" height="18.5"/><text class="bt" x="422.5" y="588.5">客户汇总</text><text class="bt" x="488.5" y="588.5">账户汇总</text><text class="bt" x="555" y="588.5">机构汇总</text><text class="bt" x="621.5" y="588.5">… …</text><text class="bt" x="422.5" y="624">客户主题</text><text class="bt" x="488.5" y="624">协议主题</text><text class="bt" x="555" y="624">产品主题</text><text class="bt" x="621.5" y="624">… …</text><text class="zt" x="671 671 671 671 671" y="580 594 608.5 623 637">主题数据区</text></g>
<g id="s5-src"><rect class="z" x="376.5" y="643" width="310.5" height="31"/><rect class="b" x="384" y="649" width="72" height="20"/><rect class="b" x="460" y="649" width="71" height="20"/><rect class="b" x="535" y="649" width="72" height="20"/><text class="bt" x="420" y="663">零售数据</text><text class="bt" x="495.5" y="663">供应链数据</text><text class="bt" x="571" y="663">......</text><text class="zt" x="646" y="663.5">贴源数据区</text></g>
<g id="s5-calc"><rect x="689.7" y="515" width="57.3" height="162.7" fill="#7f7f7f"/><text class="ct" x="718" y="600.5">数据计</text><text class="ct" x="718" y="616.5">算层</text></g>
</g>
<rect id="s5-mark" class="hl" x="250" y="514.7" width="369.7" height="42.6"/>
<g id="s5-table">
<rect class="hd" x="137" y="681.7" width="302" height="16.3"/><text class="ht" x="288" y="694.5">沙盘演练数据区</text>
<rect class="hd" x="443" y="681.7" width="304" height="16.3"/><text class="ht" x="595" y="694.5">某省市数据区</text>
<rect class="rl" x="56" y="701" width="76" height="31.7"/><text class="rt" x="94" y="716">数据内容</text><text class="rt" x="94" y="728.5">主要用途</text>
<rect class="rl" x="56" y="740" width="76" height="31.7"/><text class="rt" x="94" y="755">数据模型</text><text class="rt" x="94" y="767">保留</text>
<rect class="rl" x="56" y="779" width="76" height="31.7"/><text class="rt" x="94" y="790.5">用户</text><text class="rt" x="94" y="806">访问模式</text>
<rect class="rl" x="56" y="817.7" width="76" height="31.7"/><text class="rt" x="94" y="838">工作负载</text>
<rect class="rl" x="56" y="856.7" width="76" height="31.7"/><text class="rt" x="94" y="877">可用性要求</text>
<path class="gd" d="M138 701H439V888H138ZM443 701H747V888H443ZM138 736.3H439M138 776H439M138 815.3H439M138 853.5H439M443 736.3H747M443 776H747M443 815.3H747M443 853.5H747"/>
<g class="d"><circle cx="147" cy="712" r="2.2"/><circle cx="147" cy="724.5" r="2.2"/><circle cx="147" cy="751" r="2.2"/><circle cx="147" cy="763" r="2.2"/><circle cx="147" cy="790.5" r="2.2"/><circle cx="147" cy="803" r="2.2"/><circle cx="147" cy="828.5" r="2.2"/><circle cx="147" cy="841.5" r="2.2"/><circle cx="147" cy="867" r="2.2"/><circle cx="147" cy="879.5" r="2.2"/><circle cx="453" cy="712" r="2.2"/><circle cx="453" cy="724.5" r="2.2"/><circle cx="453" cy="751" r="2.2"/><circle cx="453" cy="763" r="2.2"/><circle cx="453" cy="790.5" r="2.2"/><circle cx="453" cy="803" r="2.2"/><circle cx="453" cy="828.5" r="2.2"/><circle cx="453" cy="867" r="2.2"/><circle cx="453" cy="879.5" r="2.2"/></g>
<text class="c" x="156" y="716">按沙盘演练需求，准备的明细或汇总业务数据</text><text class="c" x="156" y="728.5">为数据科学家的挖掘预测操作提供数据服务</text>
<text class="c" x="156" y="755">模型依赖于沙盘演练需求</text><text class="c" x="156" y="767">在整个沙盘演练保留</text>
<text class="c" x="156" y="794.5">集市区/沙盘区/归档区批量作业访问</text><text class="c" x="156" y="807">少量高级业务人员进行灵活查询、挖掘预测</text>
<text class="c" x="156" y="832.5" textLength="258" lengthAdjust="spacingAndGlyphs">I/O敏感，终批量ETL （合并、拉链、关联、汇总等等）</text><text class="c" x="156" y="845.5" textLength="275.7" lengthAdjust="spacingAndGlyphs">以ELT形式通过Hive SQL执行，复杂处理使用MR定制UDF</text>
<text class="c" x="156" y="871">独立的Hadoop集群（HDFS）</text><text class="c" x="156" y="883.5">无单点故障，7×24小时+非工作日有限停机</text>
<text class="c" x="462" y="716">面向集团管理分析类应用需求的汇总数据</text><text class="c" x="462" y="728.5" textLength="273.6" lengthAdjust="spacingAndGlyphs">为客户、运营等管理分析主题和数据增值产品提供数据服务</text>
<text class="c" x="462" y="755">维度数据模型</text><text class="c" x="462" y="767">依赖业务需求</text>
<text class="c" x="462" y="794.5">沙盘区/归档区批量作业访问</text><text class="c" x="462" y="807">决策人员、管理人员、业务人员访问</text>
<text class="c" x="462" y="832.5" textLength="269.5" lengthAdjust="spacingAndGlyphs">I/O敏感型，BI工具提交的报表、查询、分析SQL命令和日</text><text class="c" x="462" y="845.5" textLength="272.6" lengthAdjust="spacingAndGlyphs">终批量ETL（汇总、聚集等操作，以ELT形式通过SQL执行）</text>
<text class="c" x="462" y="871" textLength="272" lengthAdjust="spacingAndGlyphs">基于开放平台的完全无共享 MPP 数据库集群+内存数据库</text><text class="c" x="462" y="883.5">无单点故障，7×24小时+非工作日有限停机</text>
</g>
</g>
<text x="684" y="2248" style="font-size:15px;fill:#d4d4d4;font-family:'Noto Sans CJK SC',sans-serif">CSDN @极客11</text>
</svg>
